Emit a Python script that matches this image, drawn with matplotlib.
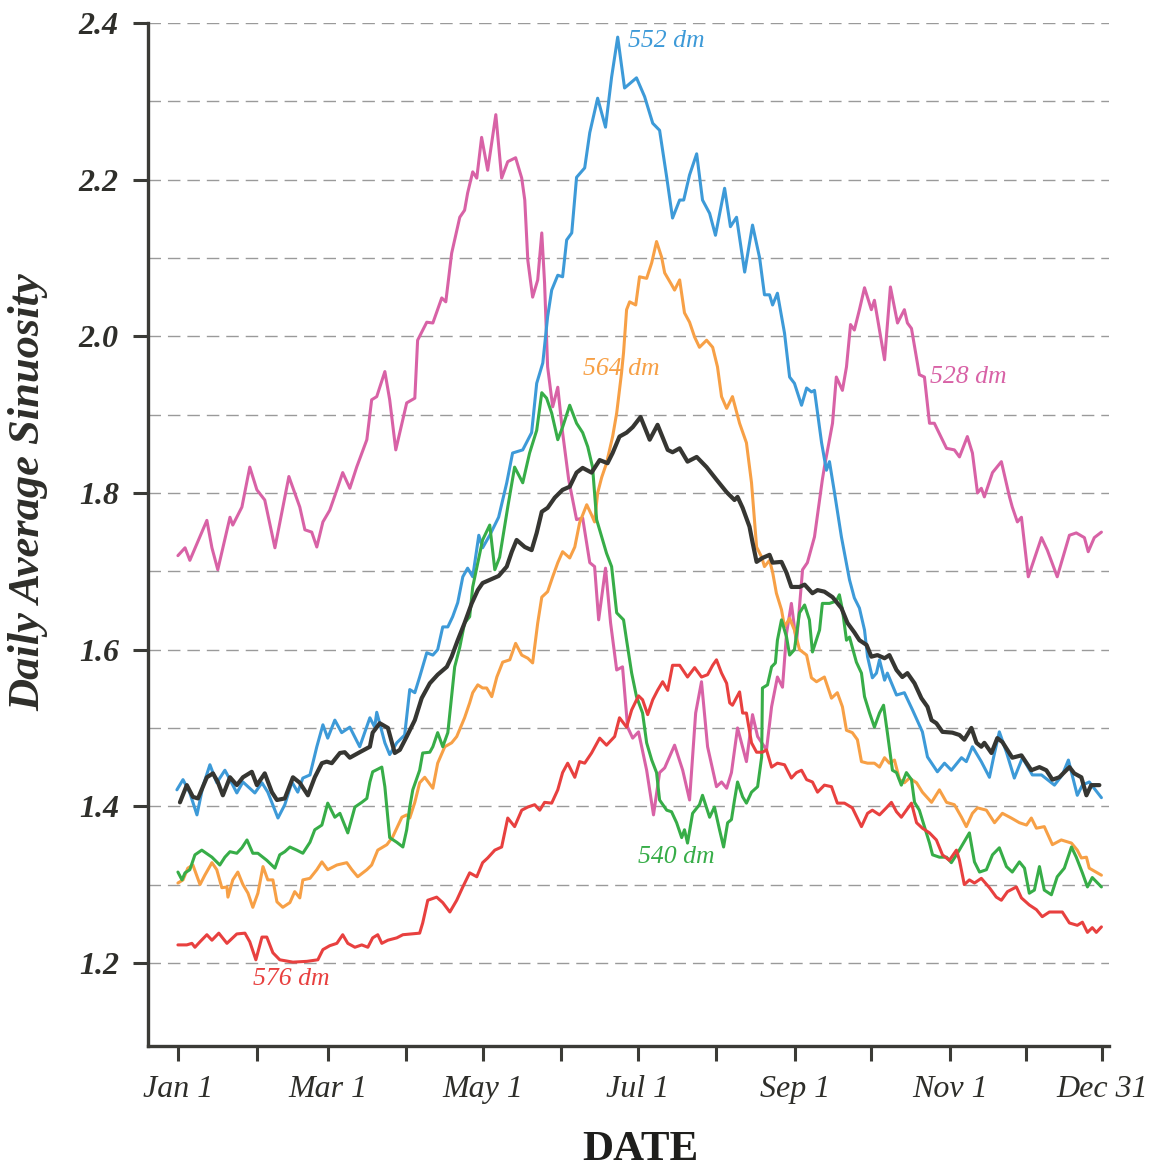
import matplotlib
matplotlib.use("Agg")
import matplotlib.pyplot as plt
from matplotlib.ticker import FixedLocator

# (day of year, daily average sinuosity)
pink_528 = [
    (1, 1.720), (3.8, 1.730), (5.7, 1.714), (12.4, 1.765), (14.4, 1.730), (16.7, 1.702),
    (21.5, 1.769), (22.6, 1.759), (26.2, 1.782), (29.3, 1.833), (32.1, 1.804), (35.2, 1.791),
    (39.2, 1.730), (44.7, 1.821), (49.0, 1.782), (51.0, 1.753), (53.7, 1.750), (55.7, 1.731),
    (58.1, 1.763), (60.8, 1.778), (63.6, 1.804), (65.9, 1.826), (68.7, 1.806), (71.4, 1.833),
    (75.4, 1.868), (77.3, 1.919), (79.3, 1.923), (82.5, 1.955), (84.4, 1.919), (86.8, 1.855),
    (91.1, 1.915), (94.3, 1.921), (95.4, 1.995), (99.0, 2.018), (101.4, 2.017), (104.9, 2.049),
    (106.5, 2.044), (108.8, 2.106), (112.0, 2.152), (113.9, 2.161), (115.1, 2.183), (117.1, 2.210),
    (118.7, 2.202), (120.6, 2.254), (123.0, 2.212), (126.2, 2.283), (128.5, 2.202), (130.9, 2.223),
    (134.0, 2.228), (136.4, 2.202), (137.6, 2.174), (138.8, 2.097), (140.7, 2.050), (142.7, 2.072),
    (144.3, 2.132), (145.4, 2.068), (146.6, 1.961), (148.6, 1.910), (150.6, 1.935), (152.5, 1.877),
    (154.9, 1.817), (158.0, 1.766), (160.4, 1.768), (163.2, 1.711), (165.1, 1.706), (166.7, 1.638),
    (169.4, 1.704), (171.4, 1.634), (173.8, 1.574), (176.1, 1.578), (178.1, 1.501), (180.1, 1.487),
    (182.4, 1.495), (185.6, 1.446), (188.3, 1.389), (190.7, 1.443), (192.7, 1.449), (196.6, 1.478),
    (199.8, 1.446), (202.5, 1.408), (204.9, 1.519), (207.2, 1.559), (209.6, 1.476), (213.1, 1.425),
    (215.1, 1.431), (217.1, 1.423), (219.0, 1.443), (221.4, 1.500), (224.9, 1.457), (227.3, 1.517),
    (229.3, 1.489), (232.8, 1.472), (234.8, 1.527), (237.1, 1.565), (239.1, 1.552), (240.7, 1.621),
    (242.6, 1.659), (244.6, 1.608), (247.0, 1.702), (248.9, 1.711), (251.7, 1.744), (254.8, 1.817),
    (255.6, 1.833), (258.8, 1.889), (260.3, 1.948), (262.7, 1.931), (264.3, 1.961), (265.9, 2.015),
    (267.4, 2.008), (269.4, 2.034), (271.4, 2.062), (274.1, 2.034), (275.3, 2.046), (279.3, 1.970),
    (281.6, 2.063), (284.4, 2.017), (287.1, 2.034), (288.3, 2.017), (289.9, 2.010), (293.0, 1.951),
    (295.0, 1.948), (297.0, 1.889), (298.9, 1.889), (303.7, 1.857), (306.8, 1.855), (308.8, 1.846),
    (311.9, 1.872), (313.9, 1.851), (315.9, 1.800), (317.4, 1.806), (318.6, 1.795), (321.8, 1.826),
    (325.3, 1.840), (328.5, 1.795), (329.6, 1.782), (331.6, 1.763), (333.2, 1.769), (335.9, 1.693),
    (341.1, 1.743), (343.4, 1.727), (347.3, 1.693), (352.1, 1.746), (354.8, 1.749), (358.0, 1.743),
    (359.5, 1.725), (361.9, 1.743), (364.7, 1.750),
]

blue_552 = [
    (0.6, 1.421), (3.0, 1.434), (5.7, 1.417), (8.5, 1.389), (10.8, 1.425), (13.6, 1.453),
    (16.3, 1.430), (19.5, 1.446), (21.5, 1.434), (24.2, 1.417), (26.6, 1.431), (29.3, 1.423),
    (31.3, 1.417), (34.1, 1.430), (36.4, 1.418), (40.4, 1.385), (43.1, 1.402), (45.9, 1.431),
    (48.2, 1.418), (50.2, 1.436), (53.0, 1.440), (55.7, 1.476), (58.1, 1.504), (60.0, 1.487),
    (62.8, 1.510), (65.5, 1.494), (68.7, 1.501), (72.6, 1.476), (76.6, 1.513), (78.5, 1.501),
    (79.3, 1.520), (82.5, 1.481), (84.4, 1.466), (87.2, 1.481), (90.3, 1.491), (92.3, 1.549),
    (94.3, 1.545), (96.2, 1.565), (99.0, 1.596), (101.4, 1.593), (103.3, 1.600), (105.3, 1.629),
    (107.3, 1.629), (109.2, 1.642), (111.2, 1.660), (113.2, 1.693), (115.1, 1.704), (117.1, 1.693),
    (119.5, 1.746), (121.0, 1.730), (123.8, 1.746), (127.3, 1.769), (130.5, 1.813), (132.8, 1.851),
    (136.8, 1.855), (140.3, 1.877), (142.3, 1.940), (144.7, 1.966), (146.6, 2.025), (148.2, 2.059),
    (150.6, 2.078), (152.5, 2.076), (154.1, 2.123), (156.1, 2.132), (158.0, 2.203), (161.2, 2.215),
    (163.2, 2.260), (166.3, 2.304), (169.4, 2.267), (171.8, 2.331), (174.2, 2.382), (176.9, 2.317),
    (181.6, 2.330), (184.8, 2.306), (188.0, 2.272), (190.7, 2.263), (193.5, 2.203), (195.8, 2.151),
    (198.6, 2.174), (200.2, 2.174), (202.5, 2.206), (205.3, 2.233), (207.6, 2.174), (210.4, 2.157),
    (212.7, 2.129), (216.3, 2.189), (218.6, 2.140), (221.0, 2.152), (224.2, 2.082), (227.3, 2.142),
    (230.1, 2.100), (232.0, 2.053), (234.0, 2.053), (235.2, 2.040), (237.1, 2.055), (239.9, 2.004),
    (241.9, 1.948), (243.8, 1.940), (246.6, 1.912), (248.6, 1.934), (250.5, 1.929), (251.7, 1.931),
    (254.5, 1.864), (256.4, 1.829), (257.6, 1.840), (259.6, 1.800), (262.3, 1.744), (265.5, 1.689),
    (267.4, 1.666), (269.4, 1.653), (271.4, 1.625), (272.6, 1.591), (274.5, 1.564), (276.1, 1.570),
    (277.3, 1.587), (279.3, 1.561), (280.4, 1.570), (284.0, 1.542), (287.1, 1.545), (290.3, 1.523),
    (294.2, 1.495), (296.2, 1.463), (300.1, 1.444), (302.9, 1.455), (305.6, 1.446), (309.6, 1.462),
    (311.5, 1.457), (313.9, 1.476), (317.4, 1.457), (320.6, 1.437), (322.2, 1.462), (324.5, 1.495),
    (327.3, 1.469), (330.4, 1.436), (333.6, 1.462), (337.5, 1.440), (341.1, 1.440), (346.2, 1.427),
    (349.3, 1.440), (351.7, 1.459), (355.2, 1.414), (357.2, 1.427), (359.9, 1.431), (364.7, 1.411),
]

orange_564 = [
    (1, 1.302), (3.0, 1.306), (4.9, 1.321), (6.9, 1.325), (9.7, 1.300), (11.6, 1.312),
    (14.4, 1.328), (16.3, 1.319), (18.3, 1.296), (20.3, 1.297), (20.7, 1.284), (22.6, 1.306),
    (24.6, 1.316), (26.6, 1.300), (28.6, 1.289), (30.5, 1.271), (32.5, 1.289), (34.5, 1.323),
    (36.4, 1.306), (38.4, 1.306), (40.0, 1.278), (42.3, 1.271), (45.1, 1.277), (47.0, 1.291),
    (49.0, 1.283), (50.2, 1.306), (53.0, 1.308), (55.7, 1.319), (57.7, 1.329), (60.0, 1.319),
    (63.6, 1.325), (67.5, 1.328), (69.5, 1.319), (71.8, 1.310), (75.4, 1.319), (77.3, 1.325),
    (79.7, 1.344), (83.3, 1.351), (85.6, 1.361), (89.2, 1.386), (91.1, 1.389), (92.3, 1.385),
    (94.3, 1.405), (96.2, 1.430), (98.2, 1.437), (101.4, 1.423), (103.3, 1.455), (106.1, 1.476),
    (108.8, 1.481), (110.8, 1.489), (113.9, 1.513), (115.9, 1.532), (117.1, 1.545), (119.1, 1.555),
    (121.0, 1.551), (122.6, 1.551), (124.6, 1.540), (126.6, 1.565), (128.9, 1.584), (131.7, 1.587),
    (134.0, 1.608), (136.4, 1.593), (138.8, 1.589), (140.7, 1.583), (142.7, 1.634), (144.3, 1.667),
    (146.6, 1.674), (148.6, 1.693), (150.6, 1.711), (152.5, 1.725), (155.3, 1.717), (157.3, 1.731),
    (159.2, 1.762), (162.0, 1.785), (163.9, 1.772), (165.1, 1.763), (166.3, 1.800), (167.9, 1.820),
    (169.8, 1.838), (172.2, 1.872), (173.8, 1.902), (175.7, 1.953), (176.5, 1.979), (177.7, 2.034),
    (178.9, 2.044), (181.3, 2.040), (182.8, 2.076), (185.6, 2.074), (187.6, 2.094), (189.5, 2.121),
    (191.5, 2.101), (192.7, 2.081), (195.4, 2.066), (196.6, 2.059), (198.6, 2.072), (200.5, 2.030),
    (202.5, 2.018), (204.5, 1.999), (206.4, 1.986), (209.2, 1.995), (211.6, 1.986), (213.5, 1.961),
    (215.1, 1.923), (217.1, 1.908), (219.4, 1.923), (222.2, 1.889), (224.9, 1.864), (226.9, 1.813),
    (228.9, 1.731), (230.9, 1.718), (232.0, 1.706), (234.0, 1.714), (235.2, 1.699), (236.7, 1.672),
    (238.7, 1.651), (239.9, 1.629), (241.9, 1.640), (243.8, 1.625), (245.8, 1.600), (248.6, 1.593),
    (250.5, 1.564), (252.5, 1.559), (255.6, 1.565), (258.4, 1.538), (260.7, 1.545), (262.7, 1.527),
    (264.3, 1.497), (266.6, 1.494), (268.6, 1.485), (270.2, 1.457), (272.6, 1.455), (275.3, 1.455),
    (277.3, 1.450), (279.3, 1.462), (281.2, 1.455), (283.2, 1.459), (285.2, 1.434), (287.1, 1.430),
    (289.1, 1.436), (291.9, 1.430), (294.2, 1.418), (297.8, 1.405), (300.9, 1.421), (303.7, 1.405),
    (306.8, 1.402), (309.6, 1.386), (311.5, 1.374), (313.9, 1.391), (315.9, 1.398), (319.4, 1.395),
    (322.6, 1.379), (325.7, 1.391), (329.2, 1.385), (332.4, 1.379), (335.2, 1.376), (337.1, 1.385),
    (339.1, 1.372), (342.2, 1.374), (345.4, 1.351), (348.9, 1.357), (352.9, 1.353), (355.2, 1.344),
    (356.8, 1.334), (358.8, 1.335), (359.9, 1.321), (364.7, 1.312),
]

green_540 = [
    (1, 1.316), (2.6, 1.306), (3.8, 1.315), (5.7, 1.319), (7.7, 1.338), (10.4, 1.344),
    (14.4, 1.335), (17.5, 1.325), (19.5, 1.335), (21.5, 1.342), (24.2, 1.340), (26.2, 1.347),
    (28.2, 1.357), (30.5, 1.340), (32.5, 1.340), (36.0, 1.331), (39.2, 1.321), (41.1, 1.338),
    (43.1, 1.342), (45.1, 1.348), (47.8, 1.344), (50.2, 1.340), (53.0, 1.354), (54.9, 1.370),
    (57.7, 1.376), (60.0, 1.404), (62.8, 1.386), (64.8, 1.391), (67.9, 1.366), (70.7, 1.399),
    (73.4, 1.405), (75.4, 1.410), (76.6, 1.431), (77.7, 1.444), (81.3, 1.450), (82.5, 1.425),
    (84.4, 1.360), (87.2, 1.354), (89.6, 1.348), (91.1, 1.370), (92.3, 1.399), (93.5, 1.421),
    (96.2, 1.446), (97.4, 1.468), (100.2, 1.469), (101.4, 1.476), (103.3, 1.494), (105.3, 1.476),
    (107.3, 1.494), (108.8, 1.540), (110.0, 1.578), (112.0, 1.603), (113.9, 1.634), (115.9, 1.642),
    (117.1, 1.680), (119.1, 1.711), (121.0, 1.740), (123.8, 1.759), (125.8, 1.702), (127.7, 1.718),
    (130.9, 1.782), (133.6, 1.833), (136.8, 1.813), (139.5, 1.851), (142.3, 1.880), (144.3, 1.928),
    (146.2, 1.921), (148.2, 1.902), (150.6, 1.868), (152.5, 1.884), (155.3, 1.912), (158.0, 1.889),
    (160.4, 1.877), (162.4, 1.859), (164.3, 1.833), (165.9, 1.766), (169.8, 1.723), (171.8, 1.706),
    (173.8, 1.647), (176.5, 1.638), (177.7, 1.612), (179.7, 1.570), (181.6, 1.540), (184.0, 1.519),
    (185.6, 1.481), (187.6, 1.459), (189.5, 1.443), (190.7, 1.408), (193.5, 1.395), (195.4, 1.393),
    (197.4, 1.379), (199.4, 1.360), (200.5, 1.370), (201.7, 1.353), (203.7, 1.391), (206.4, 1.402),
    (207.6, 1.414), (210.4, 1.386), (212.3, 1.399), (214.3, 1.370), (215.9, 1.348), (217.5, 1.379),
    (219.0, 1.383), (220.2, 1.408), (221.4, 1.431), (223.4, 1.412), (224.9, 1.404), (226.9, 1.418),
    (229.3, 1.425), (230.9, 1.463), (231.2, 1.551), (233.2, 1.555), (234.8, 1.578), (236.3, 1.583),
    (237.1, 1.612), (238.7, 1.638), (240.7, 1.616), (241.9, 1.593), (243.8, 1.600), (245.8, 1.647),
    (247.8, 1.657), (249.7, 1.638), (250.9, 1.597), (253.7, 1.625), (254.8, 1.659), (257.6, 1.659),
    (260.3, 1.662), (261.5, 1.670), (262.7, 1.651), (264.3, 1.612), (265.5, 1.616), (268.2, 1.584),
    (270.2, 1.570), (271.4, 1.540), (273.4, 1.519), (275.3, 1.501), (277.3, 1.519), (278.9, 1.529),
    (280.4, 1.494), (282.4, 1.446), (284.0, 1.443), (285.9, 1.427), (287.9, 1.443), (289.9, 1.434),
    (291.1, 1.405), (293.0, 1.395), (295.0, 1.374), (297.0, 1.353), (298.2, 1.338), (300.9, 1.335),
    (303.7, 1.335), (305.6, 1.328), (308.0, 1.340), (310.0, 1.351), (312.7, 1.366), (314.7, 1.329),
    (316.7, 1.316), (319.4, 1.319), (321.8, 1.338), (324.5, 1.347), (327.3, 1.323), (329.6, 1.316),
    (332.4, 1.329), (334.4, 1.321), (336.3, 1.289), (338.3, 1.293), (340.3, 1.323), (342.2, 1.293),
    (345.0, 1.287), (347.3, 1.310), (350.1, 1.321), (352.9, 1.348), (354.8, 1.335), (357.2, 1.315),
    (359.2, 1.297), (361.1, 1.309), (364.7, 1.297),
]

red_576 = [
    (1, 1.223), (4.5, 1.223), (6.5, 1.225), (7.7, 1.220), (9.7, 1.227), (12.4, 1.236),
    (14.4, 1.229), (17.1, 1.238), (20.3, 1.225), (24.2, 1.237), (27.4, 1.238), (29.3, 1.227),
    (31.7, 1.204), (34.1, 1.233), (36.0, 1.233), (38.4, 1.213), (41.1, 1.204), (46.3, 1.201),
    (51.8, 1.202), (56.1, 1.204), (58.1, 1.217), (60.8, 1.222), (63.6, 1.225), (65.9, 1.236),
    (67.9, 1.225), (70.7, 1.220), (73.4, 1.223), (75.8, 1.220), (77.7, 1.232), (79.7, 1.236),
    (81.3, 1.225), (83.7, 1.229), (87.2, 1.232), (89.6, 1.236), (96.2, 1.238), (97.4, 1.251),
    (99.4, 1.280), (102.9, 1.284), (105.3, 1.277), (108.1, 1.265), (110.8, 1.280), (113.2, 1.297),
    (115.9, 1.315), (118.7, 1.310), (121.0, 1.328), (123.0, 1.334), (125.8, 1.344), (128.5, 1.348),
    (130.9, 1.385), (133.6, 1.374), (136.4, 1.395), (138.8, 1.399), (141.5, 1.402), (143.5, 1.395),
    (145.4, 1.405), (148.2, 1.404), (150.6, 1.421), (152.5, 1.443), (154.5, 1.455), (157.3, 1.437),
    (159.2, 1.457), (161.2, 1.455), (163.9, 1.468), (167.1, 1.487), (169.8, 1.478), (173.0, 1.489),
    (174.9, 1.513), (177.7, 1.501), (179.7, 1.523), (182.4, 1.541), (184.0, 1.536), (186.0, 1.517),
    (188.0, 1.536), (189.9, 1.548), (191.9, 1.559), (193.9, 1.548), (195.8, 1.580), (198.6, 1.580),
    (201.7, 1.565), (204.5, 1.577), (207.2, 1.565), (209.6, 1.568), (211.6, 1.580), (213.1, 1.587),
    (215.1, 1.570), (217.1, 1.557), (218.3, 1.532), (219.4, 1.529), (222.2, 1.546), (223.4, 1.519),
    (224.9, 1.519), (226.9, 1.481), (228.9, 1.469), (231.2, 1.469), (232.8, 1.472), (234.8, 1.450),
    (237.1, 1.455), (239.9, 1.453), (242.6, 1.436), (244.6, 1.443), (246.6, 1.446), (248.6, 1.434),
    (250.9, 1.431), (252.9, 1.418), (255.6, 1.427), (258.4, 1.425), (260.7, 1.404), (263.5, 1.404),
    (266.6, 1.398), (270.2, 1.374), (272.6, 1.391), (274.5, 1.395), (277.3, 1.389), (280.0, 1.398),
    (282.0, 1.405), (284.0, 1.393), (285.9, 1.386), (287.9, 1.395), (289.9, 1.404), (291.9, 1.379),
    (294.2, 1.372), (297.0, 1.366), (299.7, 1.357), (302.1, 1.338), (304.8, 1.331), (307.6, 1.344),
    (308.8, 1.331), (310.7, 1.300), (312.7, 1.306), (314.7, 1.302), (317.4, 1.308), (320.6, 1.296),
    (323.3, 1.284), (325.3, 1.280), (327.7, 1.291), (331.2, 1.297), (333.2, 1.283), (336.3, 1.274),
    (339.1, 1.268), (341.4, 1.259), (344.2, 1.265), (349.3, 1.265), (352.1, 1.251), (355.2, 1.248),
    (357.2, 1.252), (359.2, 1.239), (361.1, 1.245), (362.7, 1.239), (364.7, 1.246),
]

mean_all = [
    (1.8, 1.405), (4.5, 1.427), (6.9, 1.412), (8.9, 1.410), (12.4, 1.437), (14.8, 1.442),
    (16.7, 1.431), (18.7, 1.414), (21.5, 1.437), (24.2, 1.427), (26.6, 1.437), (30.1, 1.444),
    (32.1, 1.427), (35.2, 1.442), (38.0, 1.418), (40.0, 1.408), (43.1, 1.410), (46.3, 1.437),
    (49.0, 1.430), (52.2, 1.414), (54.9, 1.437), (57.7, 1.455), (59.6, 1.457), (61.6, 1.455),
    (64.8, 1.468), (66.7, 1.469), (68.7, 1.462), (72.6, 1.469), (76.6, 1.476), (77.7, 1.494),
    (80.5, 1.506), (83.7, 1.500), (86.4, 1.468), (88.4, 1.472), (91.1, 1.489), (94.3, 1.510),
    (97.0, 1.538), (100.2, 1.557), (103.3, 1.568), (106.9, 1.578), (108.8, 1.591), (111.2, 1.612),
    (113.9, 1.634), (116.7, 1.659), (119.1, 1.676), (121.0, 1.685), (123.8, 1.689), (127.3, 1.694),
    (130.5, 1.706), (132.5, 1.725), (134.4, 1.740), (137.6, 1.731), (140.3, 1.727), (142.3, 1.749),
    (144.3, 1.776), (146.6, 1.781), (149.4, 1.794), (152.5, 1.804), (155.3, 1.808), (158.0, 1.826),
    (160.4, 1.832), (163.9, 1.826), (167.1, 1.842), (170.2, 1.838), (172.2, 1.851), (174.9, 1.872),
    (177.7, 1.877), (180.1, 1.884), (183.2, 1.897), (186.8, 1.868), (189.9, 1.887), (193.9, 1.855),
    (195.8, 1.852), (198.6, 1.857), (201.7, 1.840), (205.3, 1.846), (209.2, 1.833), (213.1, 1.817),
    (217.1, 1.801), (220.2, 1.791), (221.4, 1.795), (223.4, 1.781), (226.1, 1.757), (227.3, 1.737),
    (228.9, 1.712), (231.2, 1.717), (234.0, 1.721), (235.2, 1.711), (238.7, 1.712), (240.7, 1.698),
    (242.6, 1.680), (245.8, 1.680), (247.8, 1.683), (250.9, 1.672), (252.9, 1.676), (255.6, 1.674),
    (258.8, 1.667), (262.3, 1.653), (264.7, 1.634), (267.4, 1.622), (269.4, 1.612), (272.2, 1.606),
    (274.1, 1.591), (276.5, 1.593), (279.3, 1.589), (281.2, 1.593), (284.0, 1.574), (286.3, 1.565),
    (288.3, 1.570), (291.1, 1.557), (293.8, 1.538), (296.2, 1.527), (297.8, 1.510), (299.7, 1.506),
    (302.1, 1.495), (306.0, 1.494), (308.8, 1.491), (310.7, 1.485), (313.5, 1.500), (315.5, 1.481),
    (317.4, 1.476), (318.6, 1.481), (321.4, 1.468), (323.7, 1.487), (325.7, 1.482), (329.6, 1.462),
    (333.2, 1.465), (337.1, 1.446), (340.3, 1.450), (343.0, 1.446), (345.4, 1.434), (348.1, 1.437),
    (352.1, 1.450), (354.0, 1.442), (356.8, 1.437), (358.8, 1.414), (360.7, 1.427), (363.9, 1.427),
]

tick_days = [1, 32, 60, 91, 121, 152, 182, 213, 244, 274, 305, 335, 365]
tick_labels = ["Jan 1", "", "Mar 1", "", "May 1", "", "Jul 1", "", "Sep 1", "", "Nov 1", "", "Dec 31"]
y_ticks = [1.2, 1.4, 1.6, 1.8, 2.0, 2.2, 2.4]
y_grid = [1.2, 1.3, 1.4, 1.5, 1.6, 1.7, 1.8, 1.9, 2.0, 2.1, 2.2, 2.3, 2.4]

series = [
    (pink_528, "#d862a6", 2.2, "528 dm", (297.3, 1.948)),
    (blue_552, "#3d9ad8", 2.2, "552 dm", (178.1, 2.377)),
    (orange_564, "#f7a046", 2.2, "564 dm", (160.4, 1.958)),
    (green_540, "#37ad48", 2.2, "540 dm", (182.0, 1.335)),
    (red_576, "#e8403f", 2.2, "576 dm", (30.5, 1.180)),
    (mean_all, "#363632", 3.0, None, None),
]

axis_col = "#3b3b36"
serif = "Liberation Serif"

fig = plt.figure(figsize=(11.55, 11.68), dpi=100)
ax = fig.add_axes([0.1281, 0.1045, 0.8321, 0.8758])

for g in y_grid:
    ax.axhline(g, color="#9a9a9a", lw=1.0, linestyle=(0, (9, 5)), zorder=1)

for data, col, lw, label, pos in series:
    d, v = zip(*data)
    ax.plot(d, v, color=col, lw=lw, solid_joinstyle="round", solid_capstyle="round", zorder=3)
    if label:
        ax.text(pos[0], pos[1], label, color=col, fontsize=18.5, family=serif,
                style="italic", ha="left", va="center", zorder=4)

ax.set_xlim(-10.8, 367.7)
ax.set_ylim(1.094, 2.4)

ax.xaxis.set_major_locator(FixedLocator(tick_days))
ax.set_xticklabels(tick_labels)
ax.yaxis.set_major_locator(FixedLocator(y_ticks))
ax.set_yticklabels([f"{y:.1f}" for y in y_ticks])

for s in ["top", "right"]:
    ax.spines[s].set_visible(False)
for s in ["left", "bottom"]:
    ax.spines[s].set_color(axis_col)
    ax.spines[s].set_linewidth(2.4)

ax.tick_params(axis="both", which="major", direction="out", length=11, width=2.2,
               color=axis_col, labelcolor="#2e2e2a", pad=10)

for t in ax.get_xticklabels():
    t.set_family(serif)
    t.set_style("italic")
    t.set_fontsize(23)
for t in ax.get_yticklabels():
    t.set_family(serif)
    t.set_style("italic")
    t.set_weight("bold")
    t.set_fontsize(23)

ax.set_xlabel("DATE", family=serif, fontweight="bold", fontsize=31, color="#1e1e1c")
ax.xaxis.set_label_coords(0.512, -0.083)
ax.set_ylabel("Daily Average Sinuosity", family=serif, fontweight="bold", style="italic",
              fontsize=32, color="#2e2e2a")
ax.yaxis.set_label_coords(-0.104, 0.5415)

fig.savefig("out.png", dpi=100)
